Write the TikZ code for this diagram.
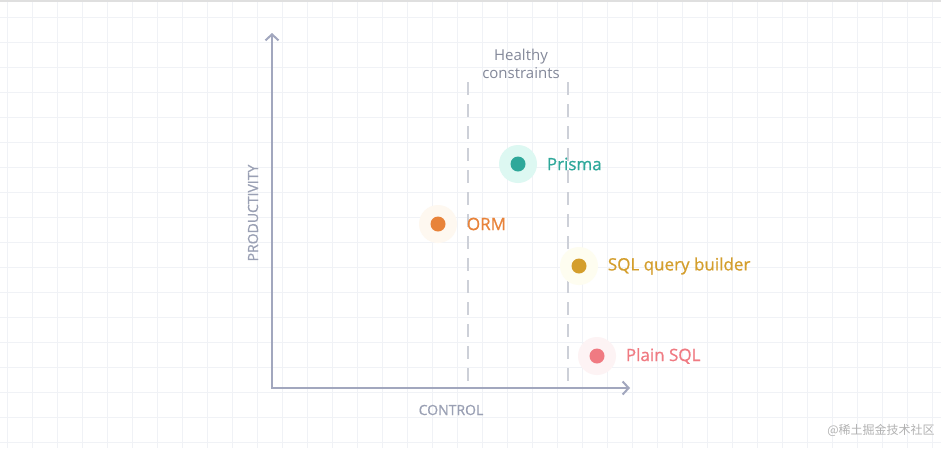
\documentclass[tikz,border=0pt]{standalone}
\usepackage{fontspec}
\setmainfont{Open Sans}
\newfontfamily\semifont[FakeBold=0.8]{Open Sans}
\newfontfamily\cjkfont{Noto Sans CJK SC}
\usetikzlibrary{arrows.meta,positioning}
\definecolor{gridcol}{HTML}{F0F2F6}
\definecolor{axiscol}{HTML}{A2A7BE}
\definecolor{labelcol}{HTML}{9AA0B4}
\definecolor{dashcol}{HTML}{CDD0D8}
\definecolor{prismacol}{HTML}{2EA89A}
\definecolor{prismahalo}{HTML}{DDF8F2}
\definecolor{ormcol}{HTML}{E8833A}
\definecolor{ormhalo}{HTML}{FEF8F0}
\definecolor{qbcol}{HTML}{D49E2C}
\definecolor{qbhalo}{HTML}{FEFDF0}
\definecolor{sqlcol}{HTML}{F07A82}
\definecolor{sqlhalo}{HTML}{FDF3F4}

\begin{document}
\begin{tikzpicture}[x=1pt,y=-1pt,
  gridline/.style={gridcol,line width=1pt},
  axis/.style={axiscol,line width=2pt,{Straight Barb[length=6pt,width=13pt]}-{Straight Barb[length=6pt,width=13pt]}},
  bound/.style={dashcol,line width=2pt,dash pattern=on 13pt off 9pt},
  halo/.style={circle,inner sep=0pt,minimum size=38pt},
  dot/.style={circle,inner sep=0pt,minimum size=15pt},
  tool/.style={inner sep=0pt,anchor=west,font=\semifont\fontsize{17}{19}\selectfont},
  axlabel/.style={labelcol,font=\semifont\fontsize{14}{16}\selectfont}]
  \useasboundingbox (0,0) rectangle (941,448);
  \fill[white] (0,0) rectangle (941,448);
  % background grid
  \foreach \gx in {7,32,...,941} \draw[gridline] (\gx,0) -- (\gx,448);
  \foreach \gy in {17,42,...,448} \draw[gridline] (0,\gy) -- (941,\gy);
  \draw[gray!25,line width=2pt] (0,1) -- (941,1);
  % axes
  \coordinate (origin) at (272,388);
  \coordinate (ytop) at (272,33);
  \coordinate (xend) at (630,388);
  \draw[axis] (ytop) -- (origin) -- (xend);
  \node[axlabel,rotate=90] (prod) at (253,213) {PRODUCTIVITY};
  \node[axlabel] (ctrl) at (451,410) {CONTROL};
  % healthy constraints band
  \coordinate (lefttop) at (468,82);
  \coordinate (leftbot) at (468,388);
  \coordinate (righttop) at (568,82);
  \coordinate (rightbot) at (568,388);
  \draw[bound] (lefttop) -- (leftbot);
  \draw[bound] (righttop) -- (rightbot);
  \node[align=center,text=labelcol!85!black,font=\fontsize{15}{18}\selectfont] (healthy) at (521,64) {Healthy\\constraints};
  % tools
  \node[halo,fill=prismahalo] (prismah) at (518,164) {};
  \node[dot,fill=prismacol] (prisma) at (prismah) {};
  \node[tool,text=prismacol,right=21pt of prisma.east,anchor=west] (prismalbl) {Prisma};
  \node[halo,fill=ormhalo] (ormh) at (438,224) {};
  \node[dot,fill=ormcol] (orm) at (ormh) {};
  \node[tool,text=ormcol,right=21pt of orm.east,anchor=west] (ormlbl) {ORM};
  \node[halo,fill=qbhalo] (qbh) at (579,266) {};
  \node[dot,fill=qbcol] (qb) at (qbh) {};
  \node[tool,text=qbcol,right=21pt of qb.east,anchor=west] (qblbl) {SQL query builder};
  \node[halo,fill=sqlhalo] (sqlh) at (597,356) {};
  \node[dot,fill=sqlcol] (sql) at (sqlh) {};
  \node[tool,text=sqlcol,right=21pt of sql.east,anchor=west] (sqllbl) {Plain SQL};
  % watermark
  \node[text=gray!60,font=\cjkfont\fontsize{12}{14}\selectfont] (mark) at (881,430) {@稀土掘金技术社区};
\end{tikzpicture}
\end{document}
